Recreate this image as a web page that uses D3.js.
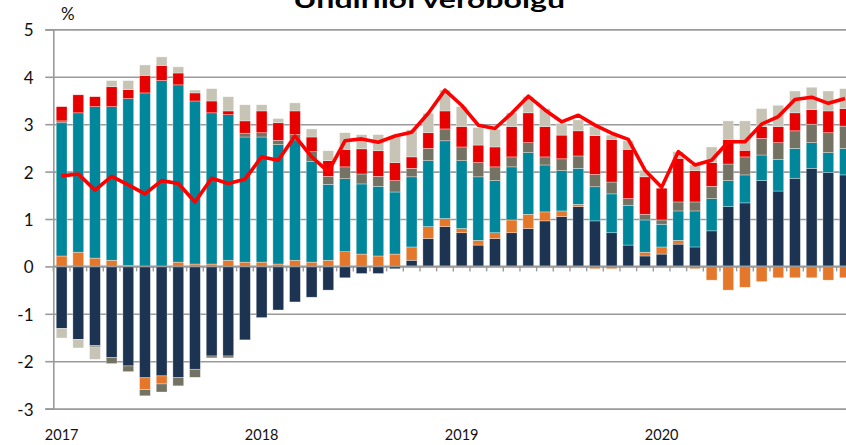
<!DOCTYPE html>
<html><head><meta charset="utf-8">
<script src="https://cdn.jsdelivr.net/npm/d3@7"></script>
<style>body{margin:0;background:#fff}svg{display:block;font-family:Lato,"Open Sans",sans-serif}</style>
</head><body><svg id="c" width="846" height="445"></svg>
<script>
const months = ["2017-01","2017-02","2017-03","2017-04","2017-05","2017-06","2017-07","2017-08","2017-09","2017-10","2017-11","2017-12",
"2018-01","2018-02","2018-03","2018-04","2018-05","2018-06","2018-07","2018-08","2018-09","2018-10","2018-11","2018-12",
"2019-01","2019-02","2019-03","2019-04","2019-05","2019-06","2019-07","2019-08","2019-09","2019-10","2019-11","2019-12",
"2020-01","2020-02","2020-03","2020-04","2020-05","2020-06","2020-07","2020-08","2020-09","2020-10","2020-11","2020-12"];
const yearLabels = ["2017","2018","2019","2020"];
const yearLabelMonths = ["2017-01","2018-01","2019-01","2020-01"];
const yTicks = [-3,-2,-1,0,1,2,3,4,5];

const navy = [-1.31,-1.54,-1.67,-1.92,-2.10,-2.35,-2.31,-2.34,-2.17,-1.89,-1.89,-1.55,
-1.08,-0.92,-0.75,-0.65,-0.50,-0.24,-0.15,-0.15,-0.05,0.13,0.59,0.84,
0.71,0.45,0.59,0.71,0.80,0.96,1.05,1.26,0.96,0.71,0.45,0.22,
0.26,0.47,0.41,0.75,1.26,1.34,1.81,1.59,1.86,2.07,1.98,1.93];
const orange = [0.22,0.30,0.175,0.13,0.02,-0.25,-0.17,0.09,0.05,0.05,0.13,0.09,
0.09,0.05,0.13,0.09,0.13,0.31,0.26,0.22,0.26,0.28,0.25,0.17,
0.09,0.10,0.12,0.27,0.30,0.19,0.12,0.05,-0.05,-0.05,0.0,0.08,
0.15,0.08,-0.05,-0.29,-0.50,-0.44,-0.32,-0.24,-0.24,-0.24,-0.29,-0.24];
const teal = [2.81,2.94,3.195,3.24,3.52,3.66,3.92,3.74,3.44,3.19,3.07,2.64,
2.64,2.52,2.54,2.12,1.60,1.54,1.48,1.47,1.31,1.48,1.39,1.64,
1.43,1.34,1.10,1.12,1.30,0.99,0.85,0.76,0.72,0.82,0.84,0.68,
0.48,0.62,0.76,0.68,0.55,0.59,0.54,0.67,0.63,0.54,0.42,0.56];
const gray = [0.04,0,-0.03,-0.13,-0.12,-0.13,-0.17,-0.18,-0.17,-0.04,-0.04,0.08,
0.09,0.09,0.11,0.21,0.17,0.25,0.21,0.21,0.24,0.18,0.26,0.25,
0.29,0.30,0.29,0.21,0.21,0.17,0.25,0.26,0.26,0.25,0.14,0.12,
0.09,0.19,0.19,0.26,0.35,0.38,0.35,0.35,0.37,0.39,0.42,0.47];
const red = [0.30,0.38,0.21,0.42,0.19,0.37,0.32,0.25,0.17,0.25,0.08,0.26,
0.46,0.37,0.50,0.31,0.33,0.37,0.53,0.54,0.38,0.24,0.33,0.38,
0.43,0.37,0.42,0.64,0.63,0.64,0.50,0.53,0.82,0.90,1.04,0.79,
0.67,0.92,0.66,0.50,0.52,0.14,0.25,0.34,0.38,0.31,0.46,0.37];
const beige = [-0.20,-0.18,-0.26,0.13,0.19,0.22,0.18,0.13,0.06,0.26,0.30,0.34,
0.13,0.09,0.17,0.17,0.21,0.35,0.30,0.34,0.54,0.57,0.41,0.44,
0.42,0.37,0.37,0.29,0.34,0.38,0.25,0.23,0.19,0.09,0.18,0.14,
0.0,0.14,0.12,0.33,0.39,0.62,0.38,0.45,0.46,0.47,0.42,0.42];
const total = [1.91,1.95,1.61,1.90,1.72,1.53,1.81,1.75,1.36,1.86,1.75,1.84,
2.31,2.24,2.75,2.31,2.00,2.65,2.69,2.62,2.75,2.83,3.23,3.72,
3.40,2.98,2.91,3.23,3.59,3.30,3.05,3.19,2.98,2.81,2.68,2.03,
1.67,2.42,2.14,2.24,2.63,2.63,3.00,3.16,3.52,3.57,3.44,3.54];

const seriesKeys = ["navy","orange","teal","gray","red","beige"];
const seriesColors = {navy:"#1c3452",orange:"#e5772a",teal:"#00879b",gray:"#747262",red:"#e60000",beige:"#c7c4b6"};
const seriesData = {navy, orange, teal, gray, red, beige};

const table = months.map((m,i)=>{
  const row = {month:m};
  seriesKeys.forEach(k=>row[k]=seriesData[k][i]);
  return row;
});

const x0 = 53.3, x1 = 853.3;
const svg = d3.select("#c");
const x = d3.scaleBand().domain(months).range([x0,x1]).paddingInner(0.35).paddingOuter(0.175);
const y = d3.scaleLinear().domain([-3,5]).range([408.6,29.4]);
const gridColor = "#9a9a9a";

// gridlines
const grid = svg.append("g").attr("transform",`translate(${x0},0)`)
  .call(d3.axisLeft(y).tickValues(yTicks).tickSize(-(x1-x0)).tickFormat(""));
grid.select(".domain").remove();
grid.selectAll("line").attr("stroke",gridColor).attr("stroke-width",1.6);

// stacked bars
const stack = d3.stack().keys(seriesKeys).offset(d3.stackOffsetDiverging)(table);
svg.append("g").selectAll("g").data(stack).join("g")
  .attr("fill",d=>seriesColors[d.key])
  .selectAll("rect").data(d=>d).join("rect")
  .attr("x",d=>x(d.data.month))
  .attr("width",x.bandwidth())
  .attr("y",d=>y(Math.max(d[0],d[1])))
  .attr("height",d=>Math.abs(y(d[0])-y(d[1])))
  .attr("stroke","rgba(255,255,255,0.55)").attr("stroke-width",0.6);

// y axis
const ya = svg.append("g").attr("transform",`translate(${x0},0)`)
  .call(d3.axisLeft(y).tickValues(yTicks).tickSize(8).tickPadding(11.8).tickFormat(d=>String(d)));
ya.select(".domain").attr("stroke",gridColor).attr("stroke-width",1.6);
ya.selectAll(".tick line").attr("stroke",gridColor).attr("stroke-width",1.6);
ya.selectAll(".tick text").attr("font-size",17).attr("fill","#111").attr("font-family","Lato, sans-serif").attr("dy","0.38em");

// zero axis with month ticks
const y0 = y(0);
const step = x.step();
const xa = svg.append("g");
xa.append("line").attr("x1",x0).attr("x2",x1).attr("y1",y0).attr("y2",y0)
  .attr("stroke",gridColor).attr("stroke-width",1.8);
xa.selectAll("line.t").data(months.concat(["end"])).join("line").attr("class","t")
  .attr("x1",(d,i)=>x0+i*step).attr("x2",(d,i)=>x0+i*step)
  .attr("y1",y0).attr("y2",y0+5)
  .attr("stroke",gridColor).attr("stroke-width",1.4);

// line
const line = d3.line().x((d,i)=>x(months[i])+x.bandwidth()/2).y(d=>y(d));
svg.append("path").datum(total).attr("d",line)
  .attr("fill","none").attr("stroke","#ff0000").attr("stroke-width",3.6).attr("stroke-linejoin","round");

// year labels
svg.append("g").selectAll("text").data(yearLabels).join("text")
  .attr("x",(d,i)=>x(yearLabelMonths[i])+x.bandwidth()/2)
  .attr("y",440).attr("text-anchor","middle")
  .attr("font-size",14.5).attr("fill","#111").text(d=>d);

// % label
svg.append("text").attr("x",61).attr("y",20).attr("font-size",17).attr("fill","#111").text("%");

// title
svg.append("text").attr("x",429).attr("y",7.5).attr("text-anchor","middle")
  .attr("font-size",23).attr("font-weight","bold").attr("fill","#000")
  .attr("textLength",272).attr("lengthAdjust","spacingAndGlyphs")
  .text("Undirliði verðbólgu");
</script>
</body></html>
